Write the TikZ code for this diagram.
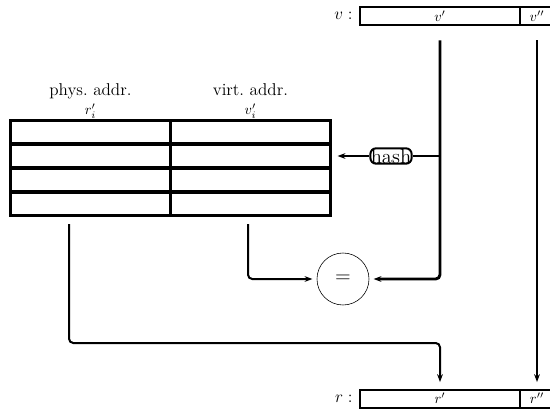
\documentclass[tikz,border=0pt]{standalone}
\usepackage{amsmath, amssymb}
\usepackage{tikz}
\usetikzlibrary{arrows.meta, positioning, calc}

\begin{document}
\begin{tikzpicture}[x=0.7pt, y=-0.7pt, >={Stealth[length=5.5pt, width=4pt]},
    conn/.style={line width=1.4pt, rounded corners=3pt},
    reg/.style={draw, line width=1.4pt, inner sep=0pt, minimum height=12.6pt},
    cell/.style={draw, line width=2pt, inner sep=0pt, minimum width=112pt, minimum height=16.1pt},
    head/.style={font=\large, text height=1.6ex, text depth=0.3ex, inner sep=1pt},
    idx/.style={text height=1.9ex, text depth=0.7ex, inner sep=1pt}]
  \useasboundingbox (0,0) rectangle (550,409);
  \clip (0,0) rectangle (550,409);
  % Virtual and real address registers
  \node[reg, minimum width=112pt, anchor=west] (vhi) at (359,16) {$v'$};
  \node[reg, minimum width=23.8pt, right=-1.4pt of vhi] (vlo) {$v''$};
  \node[left=1pt of vhi, font=\large] (vlab) {$v:$};
  \node[reg, minimum width=112pt, anchor=west] (rhi) at (359,398.5) {$r'$};
  \node[reg, minimum width=23.8pt, right=-1.4pt of rhi] (rlo) {$r''$};
  \node[left=1pt of rhi, font=\large] (rlab) {$r:$};
  % Translation table
  \foreach \i/\ypos in {1/132, 2/156, 3/180, 4/204} {
    \node[cell, anchor=west] (p\i) at (9,\ypos) {};
    \node[cell, right=-2pt of p\i] (q\i) {};
  }
  \node[idx, above=-1pt of p1] (ri) {$r'_i$};
  \node[head, above=1.5pt of ri] (physlab) {phys.\ addr.};
  \node[idx, above=-1pt of q1] (vi) {$v'_i$};
  \node[head, above=1.5pt of vi] (virtlab) {virt.\ addr.};
  % Hash and compare
  \node[draw, line width=1.4pt, rounded corners=4pt, inner sep=0.3pt, font=\Large] (hash) at (391,156) {hash};
  \node[draw, circle, thin, minimum size=36.4pt, inner sep=0pt, font=\Large] (eq) at (343,279) {$=$};
  \coordinate (hashtap) at (vhi.south |- hash.east);
  \coordinate (vout) at (248,224);
  \coordinate (rout) at (69,224);
  \coordinate (rbend) at (69,343);
  % Connections
  \draw[conn, line width=2pt, ->, shorten <=10pt, shorten >=4.5pt] (vlo.south) -- (rlo.north);
  \draw[conn, line width=2pt, ->, shorten <=10pt, shorten >=3pt] (vhi.south) |- (eq.east);
  \draw[conn, line width=2pt] (hashtap) -- (hash.east);
  \draw[conn, line width=2pt, ->, shorten >=4pt] (hash.west) -- (q2.east);
  \draw[conn, ->, shorten >=3pt] (vout) |- (eq.west);
  \draw[conn, ->, shorten >=4.5pt] (rout) -- (rbend) -| (rhi.north);
\end{tikzpicture}
\end{document}
